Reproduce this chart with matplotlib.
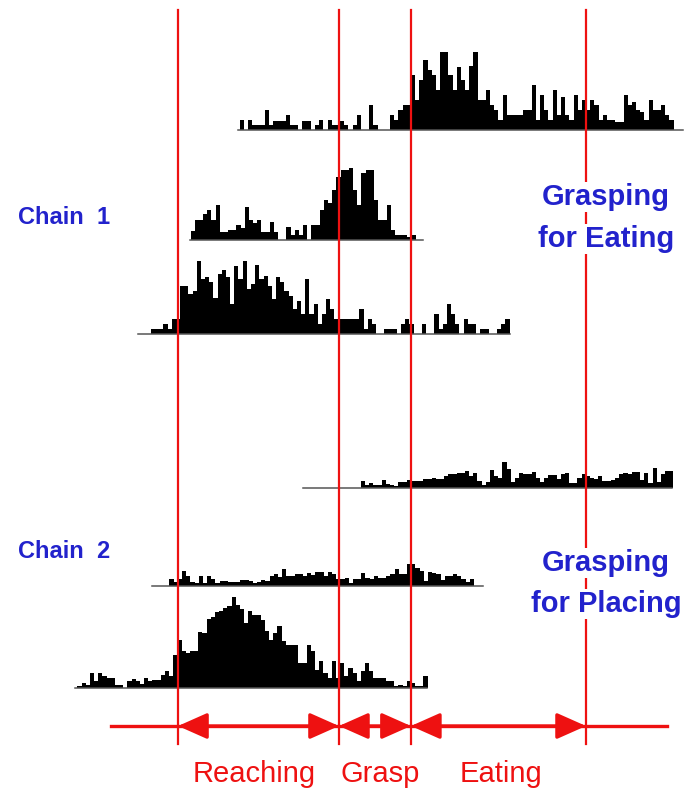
import matplotlib.pyplot as plt
from matplotlib.patches import FancyArrowPatch
import numpy as np

plt.rcParams['font.family'] = ['Liberation Sans', 'DejaVu Sans']

# event times (ms, 0 = grasp onset): reach onset, grasp, contact/eating, end
events = [-772, 0, 345, 1185]
phases = ['Reaching', 'Grasp', 'Eating']

BIN_MS = 20
# onset of first bin and recording window for each neuron (ms)
onsets = [-475, -712, -902, 104, -813, -1255]
windows = [(-484, 1650), (-715, 403), (-964, 820),
           (-173, 1597), (-897, 691), (-1266, 422)]

# firing rates per bin (arbitrary units)
rate1 = [10, 0, 10, 5, 5, 5, 20, 5, 9, 9, 9, 15, 5, 5, 0, 9, 9, 0, 5, 10,
         0, 10, 5, 5, 9, 5, 0, 5, 15, 0, 0, 25, 5, 0, 0, 0, 15, 10, 20, 25,
         25, 55, 30, 50, 70, 60, 55, 40, 78, 78, 55, 40, 63, 50, 40, 64, 78, 30, 30, 40,
         25, 20, 10, 35, 15, 15, 15, 15, 20, 20, 45, 10, 35, 20, 10, 40, 15, 33, 15, 10,
         35, 20, 30, 20, 30, 25, 10, 15, 10, 10, 8, 8, 35, 25, 28, 20, 18, 10, 30, 20,
         20, 25, 15, 10]
rate2 = [9, 20, 20, 26, 30, 20, 35, 8, 8, 10, 10, 15, 12, 33, 20, 17, 20, 8, 8, 18,
         8, 0, 0, 13, 5, 10, 5, 15, 0, 15, 15, 30, 40, 37, 50, 63, 70, 70, 72, 50,
         35, 67, 70, 70, 40, 20, 20, 35, 10, 5, 5, 5, 3, 5]
rate3 = [5, 5, 5, 10, 5, 15, 15, 48, 48, 40, 43, 73, 55, 57, 52, 36, 60, 64, 57, 30,
         68, 55, 73, 45, 50, 69, 55, 58, 48, 35, 57, 52, 43, 38, 25, 33, 20, 55, 20, 30,
         10, 20, 35, 25, 15, 15, 15, 15, 15, 15, 25, 5, 15, 10, 0, 0, 5, 5, 5, 0,
         10, 15, 10, 0, 0, 10, 0, 0, 20, 5, 10, 30, 20, 10, 0, 15, 10, 10, 0, 5,
         5, 0, 0, 5, 10, 15]
rate4 = [7, 3, 5, 3, 3, 8, 4, 3, 2, 6, 6, 8, 7, 7, 7, 9, 9, 10, 9, 9,
         12, 14, 14, 15, 15, 17, 12, 15, 7, 3, 6, 18, 12, 10, 26, 19, 6, 10, 15, 14,
         14, 16, 10, 6, 10, 13, 13, 9, 14, 15, 5, 5, 10, 14, 12, 10, 9, 12, 7, 7,
         8, 10, 14, 15, 14, 16, 16, 8, 15, 5, 20, 6, 14, 17, 17]
rate5 = [7, 4, 7, 15, 10, 4, 3, 10, 3, 10, 7, 3, 5, 5, 4, 4, 4, 6, 6, 5,
         3, 4, 6, 5, 10, 12, 9, 17, 10, 10, 12, 12, 10, 13, 11, 14, 14, 10, 14, 12,
         7, 7, 8, 3, 7, 7, 13, 8, 7, 10, 8, 8, 10, 12, 17, 12, 12, 22, 22, 18,
         15, 5, 14, 13, 12, 6, 10, 10, 12, 10, 7, 4, 7]
rate6 = [2, 5, 3, 15, 7, 15, 12, 10, 10, 3, 3, 0, 7, 9, 7, 4, 10, 7, 8, 8,
         13, 17, 12, 33, 48, 37, 35, 37, 37, 56, 55, 69, 71, 76, 77, 80, 82, 91, 83, 79,
         65, 77, 73, 73, 68, 57, 48, 55, 62, 47, 43, 43, 43, 25, 25, 43, 37, 18, 27, 15,
         10, 27, 10, 25, 12, 20, 15, 7, 17, 25, 17, 10, 10, 10, 7, 7, 2, 3, 2, 7,
         5, 2, 2, 12]
rates = [rate1, rate2, rate3, rate4, rate5, rate6]

# layout (figure pixels, y down)
baselines = [130, 240, 334, 488, 586, 688]
RED = '#ee1111'
BLUE = '#2222cc'

fig = plt.figure(figsize=(6.84, 7.92), dpi=100)
ax = fig.add_axes([0, 0, 1, 1])
ax.set_xlim(-1626, 1655)
ax.set_ylim(792, 0)
ax.axis('off')

for r, on, win, base in zip(rates, onsets, windows, baselines):
    r = np.array(r, dtype=float)
    edges = on + BIN_MS * np.arange(len(r) + 1)
    ax.stairs(base - r, edges, baseline=base, fill=True, color='black', lw=0, zorder=2)
    ax.plot(win, [base, base], color='#555555', lw=1.1, zorder=2)

# event lines
for t in events:
    ax.plot([t, t], [10, 744], color=RED, lw=1.6, zorder=3)

# phase arrows
ax.plot([-1094, 1573], [726, 726], color=RED, lw=2.4, zorder=3)
for a, b in zip(events[:-1], events[1:]):
    arr = FancyArrowPatch((a, 726), (b, 726),
                          arrowstyle='<|-|>,head_length=18,head_width=8',
                          mutation_scale=1, shrinkA=0, shrinkB=0,
                          color=RED, lw=2.4, zorder=4)
    ax.add_patch(arr)

label_x = [-406, 196, 775]
for name, x in zip(phases, label_x):
    ax.text(x, 774, name, color=RED, fontsize=21, ha='center', va='center')

ax.text(-1540, 217, 'Chain  1', color=BLUE, fontsize=17, fontweight='bold',
        ha='left', va='center')
ax.text(-1540, 551, 'Chain  2', color=BLUE, fontsize=17, fontweight='bold',
        ha='left', va='center')

box = dict(facecolor='white', edgecolor='none', pad=0.5)
for txt, y in [('Grasping', 197), ('for Eating', 239),
               ('Grasping', 563), ('for Placing', 604)]:
    ax.text(1282, y, txt, color=BLUE, fontsize=21, fontweight='bold',
            ha='center', va='center', bbox=box, zorder=5)

fig.savefig('out.png', dpi=100)
